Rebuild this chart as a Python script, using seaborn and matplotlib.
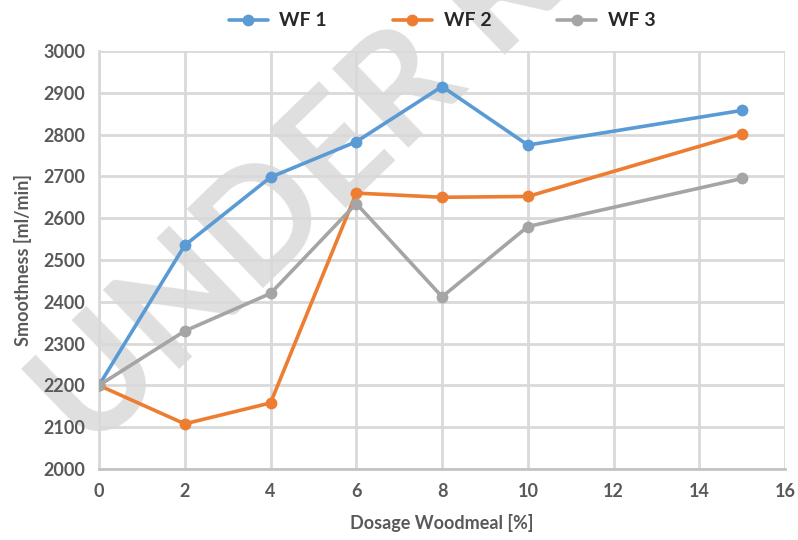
import numpy as np
import pandas as pd
import matplotlib
matplotlib.use("Agg")
import matplotlib.pyplot as plt
import seaborn as sns

# Data
dosage = [0, 2, 4, 6, 8, 10, 15]
wf1 = [2200, 2535, 2698, 2783, 2915, 2775, 2858]
wf2 = [2200, 2108, 2158, 2660, 2650, 2652, 2802]
wf3 = [2200, 2330, 2420, 2635, 2412, 2580, 2695]
series_names = ["WF 1", "WF 2", "WF 3"]
colors = ["#5B9BD5", "#ED7D31", "#A5A5A5"]

df = pd.DataFrame({"Dosage": dosage * 3,
                   "Smoothness": wf1 + wf2 + wf3,
                   "Series": np.repeat(series_names, len(dosage))})

sns.set_style("white")
plt.rcParams['font.family'] = ['Lato', 'DejaVu Sans']
text_col = "#595959"
grid_col = "#D9D9D9"

fig = plt.figure(figsize=(7.98, 5.40), dpi=100)
ax = fig.add_axes([0.124, 0.1315, 0.86, 0.7741])
ax.patch.set_visible(False)

# watermark behind the axes content
fig.text(0.113, 0.157, "UNDER REVIEW", fontsize=109, color="#DFDFDF", rotation=44,
         family=["Liberation Sans Narrow", "Lato"], fontweight="bold",
         ha="left", va="baseline", rotation_mode="anchor", zorder=-1)

sns.lineplot(data=df, x="Dosage", y="Smoothness", hue="Series", palette=colors,
             marker="o", markersize=8.5, markeredgewidth=0, linewidth=2.6, ax=ax, zorder=3)

ax.set_xlim(0, 16)
ax.set_ylim(2000, 3000)
ax.set_xticks(np.arange(0, 17, 2))
ax.set_yticks(np.arange(2000, 3001, 100))
ax.grid(True, color=grid_col, linewidth=2)
ax.set_axisbelow(True)
for s in ax.spines.values():
    s.set_visible(False)
ax.spines['bottom'].set_visible(True)
ax.spines['bottom'].set_color("#C4C4C4")
ax.spines['bottom'].set_linewidth(2)
ax.spines['left'].set_visible(True)
ax.spines['left'].set_color(grid_col)
ax.spines['left'].set_linewidth(2)
ax.tick_params(length=0, labelsize=13, labelcolor=text_col, pad=10)
for lbl in ax.get_xticklabels() + ax.get_yticklabels():
    lbl.set_fontweight("bold")

ax.set_xlabel("Dosage Woodmeal [%]", fontsize=13, fontweight="bold", color=text_col, labelpad=10)
ax.set_ylabel("Smoothness [ml/min]", fontsize=13, fontweight="bold", color=text_col, labelpad=8)

ax.legend(loc="center", bbox_to_anchor=(0.5, 1.072), ncol=3, frameon=False,
          prop={"size": 14, "weight": "bold"}, handlelength=2.0, handletextpad=0.6,
          columnspacing=3.4, borderaxespad=0)

fig.savefig("out.png", dpi=100)
